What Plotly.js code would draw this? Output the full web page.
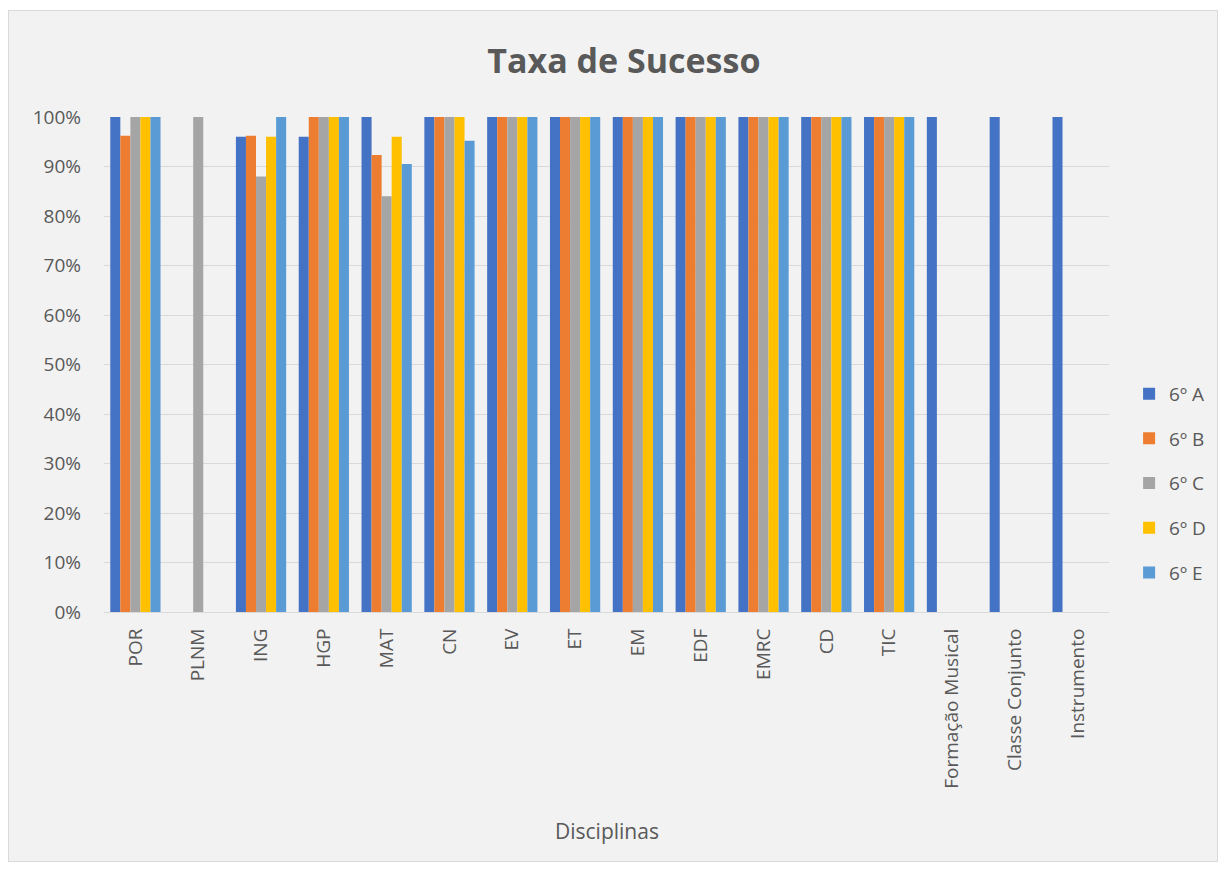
<!DOCTYPE html>
<html>
<head>
<meta charset="utf-8">
<script src="https://cdn.plot.ly/plotly-3.0.1.min.js"></script>
<style>
html,body{margin:0;padding:0;background:#ffffff;}
#chart{position:absolute;left:8px;top:10px;width:1208px;height:850px;border:1px solid #d9d9d9;background:#f2f2f2;}
</style>
</head>
<body>
<div id="chart"></div>
<script>
const categories = ["POR","PLNM","ING","HGP","MAT","CN","EV","ET","EM","EDF","EMRC","CD","TIC","Formação Musical","Classe Conjunto","Instrumento"];
const seriesNames = ["6º A","6º B","6º C","6º D","6º E"];
const valsA = [1.00, null, 0.96, 0.96, 1.00, 1.00, 1.00, 1.00, 1.00, 1.00, 1.00, 1.00, 1.00, 1.00, 1.00, 1.00];
const valsB = [0.962, null, 0.962, 1.00, 0.923, 1.00, 1.00, 1.00, 1.00, 1.00, 1.00, 1.00, 1.00, null, null, null];
const valsC = [1.00, 1.00, 0.88, 1.00, 0.84, 1.00, 1.00, 1.00, 1.00, 1.00, 1.00, 1.00, 1.00, null, null, null];
const valsD = [1.00, null, 0.96, 1.00, 0.96, 1.00, 1.00, 1.00, 1.00, 1.00, 1.00, 1.00, 1.00, null, null, null];
const valsE = [1.00, null, 1.00, 1.00, 0.905, 0.952, 1.00, 1.00, 1.00, 1.00, 1.00, 1.00, 1.00, null, null, null];
const yTicks = [0,0.1,0.2,0.3,0.4,0.5,0.6,0.7,0.8,0.9,1.0];
const yTickLabels = ["0%","10%","20%","30%","40%","50%","60%","70%","80%","90%","100%"];
const colors = ["#4472C4","#ED7D31","#A5A5A5","#FFC000","#5B9BD5"];
const allVals = [valsA, valsB, valsC, valsD, valsE];

const FONT = "'Open Sans', sans-serif";
const traces = allVals.map((v, i) => ({
  type: "bar",
  name: seriesNames[i],
  x: categories,
  y: v,
  marker: {color: colors[i]},
  legendgroup: "g" + i,
  hoverinfo: "x+y+name"
}));

const layout = {
  width: 1208,
  height: 850,
  paper_bgcolor: "#f2f2f2",
  plot_bgcolor: "#f2f2f2",
  margin: {l: 95, r: 108, t: 106, b: 249, autoexpand: false},
  barmode: "group",
  bargap: 0.2,
  bargroupgap: 0,
  font: {family: FONT, color: "#595959", size: 19},
  title: {
    text: "<b>Taxa de Sucesso</b>",
    font: {family: FONT, size: 34, color: "#595959"},
    x: 0.509, xanchor: "center",
    y: 1 - 50/850, yanchor: "middle", yref: "container"
  },
  xaxis: {
    type: "category",
    tickangle: -90,
    tickfont: {family: FONT, size: 19, color: "#595959"},
    showgrid: false,
    showline: true,
    linecolor: "#d9d9d9",
    linewidth: 1,
    ticks: "",
    ticklabelstandoff: 8
  },
  yaxis: {
    range: [0, 1.0],
    tickvals: yTicks,
    ticktext: yTickLabels,
    tickfont: {family: FONT, size: 19, color: "#595959"},
    gridcolor: "#d9d9d9",
    gridwidth: 1,
    zeroline: false,
    showline: false,
    ticks: "",
    ticklabelstandoff: 22
  },
  legend: {
    x: 1.02, xanchor: "left",
    y: 0.26, yanchor: "middle",
    font: {family: FONT, size: 19, color: "#595959"},
    tracegroupgap: 17,
    bgcolor: "rgba(0,0,0,0)",
    itemwidth: 30
  },
  annotations: [{
    text: "Disciplinas",
    xref: "paper", yref: "paper",
    x: 0.5, y: (601 - 820) / 495,
    xanchor: "center", yanchor: "middle",
    showarrow: false,
    font: {family: FONT, size: 21, color: "#595959"}
  }],
  showlegend: true
};

Plotly.newPlot("chart", traces, layout, {displayModeBar: false, responsive: false});
</script>
</body>
</html>
